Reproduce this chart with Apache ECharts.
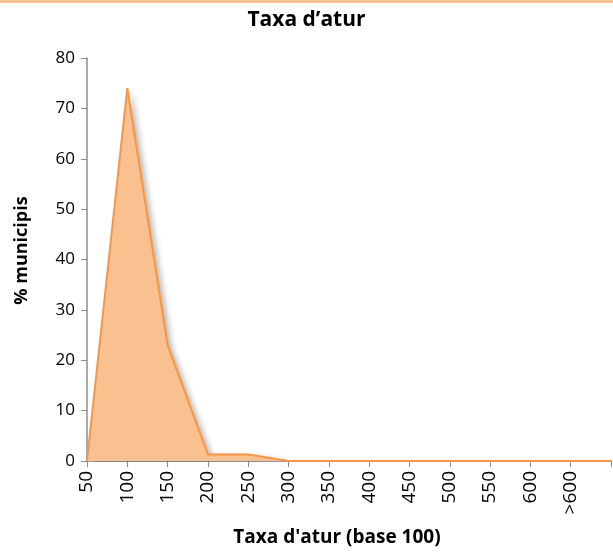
<!DOCTYPE html>
<html><head><meta charset="utf-8">
<script src="https://cdn.jsdelivr.net/npm/echarts@6/dist/echarts.min.js"></script>
<style>html,body{margin:0;padding:0;background:#fff}#c{width:613px;height:555px}</style>
</head><body><div id="c"></div>
<script>
var categories = ['50','100','150','200','250','300','350','400','450','500','550','600','>600',''];
var values = [0, 74, 23, 1.3, 1.3, 0, 0, 0, 0, 0, 0, 0, 0, 0];
var yTicks = {min: 0, max: 80, interval: 10};
var title = 'Taxa d\u2019atur';
var xName = "Taxa d'atur (base 100)";
var yName = '% municipis';

var chart = echarts.init(document.getElementById('c'));
var font = '"Open Sans", "Noto Sans", sans-serif';
chart.setOption({
  animation: false,
  textStyle: {fontFamily: font},
  title: {text: title, left: 'center', top: 5,
    textStyle: {fontFamily: font, fontSize: 21, fontWeight: 'bold', color: '#000'}},
  graphic: [{type: 'rect', shape: {x: 0, y: 0, width: 613, height: 3}, style: {fill: '#f9c08f'}}],
  grid: {left: 87, right: 2, top: 58, bottom: 94},
  xAxis: {
    type: 'category', data: categories, boundaryGap: false,
    name: xName, nameLocation: 'middle', nameGap: 67,
    nameTextStyle: {fontFamily: font, fontSize: 19, fontWeight: 'bold', color: '#000', padding: [0, 24, 0, 0]},
    axisLine: {lineStyle: {color: '#8c8c8c', width: 1.5}},
    axisTick: {show: true, length: 6, lineStyle: {color: '#8c8c8c'}, alignWithLabel: true},
    axisLabel: {rotate: 90, fontSize: 19, color: '#000', margin: 10, interval: 0}
  },
  yAxis: {
    type: 'value', min: yTicks.min, max: yTicks.max, interval: yTicks.interval,
    name: yName, nameLocation: 'middle', nameGap: 56, nameRotate: 90,
    nameTextStyle: {fontFamily: font, fontSize: 18, fontWeight: 'bold', color: '#000', padding: [0, 0, 0, 18]},
    axisLine: {show: true, lineStyle: {color: '#8c8c8c', width: 1.5}},
    axisTick: {show: true, length: 6, lineStyle: {color: '#8c8c8c'}},
    splitLine: {show: false},
    axisLabel: {fontSize: 17, color: '#000', margin: 12}
  },
  series: [{
    type: 'line', data: values, symbol: 'none',
    lineStyle: {color: '#f79646', width: 2},
    areaStyle: {color: '#fac090', opacity: 1, shadowColor: 'rgba(0,0,0,0.3)', shadowBlur: 6, shadowOffsetX: 4, shadowOffsetY: 2}
  }]
});
</script></body></html>
